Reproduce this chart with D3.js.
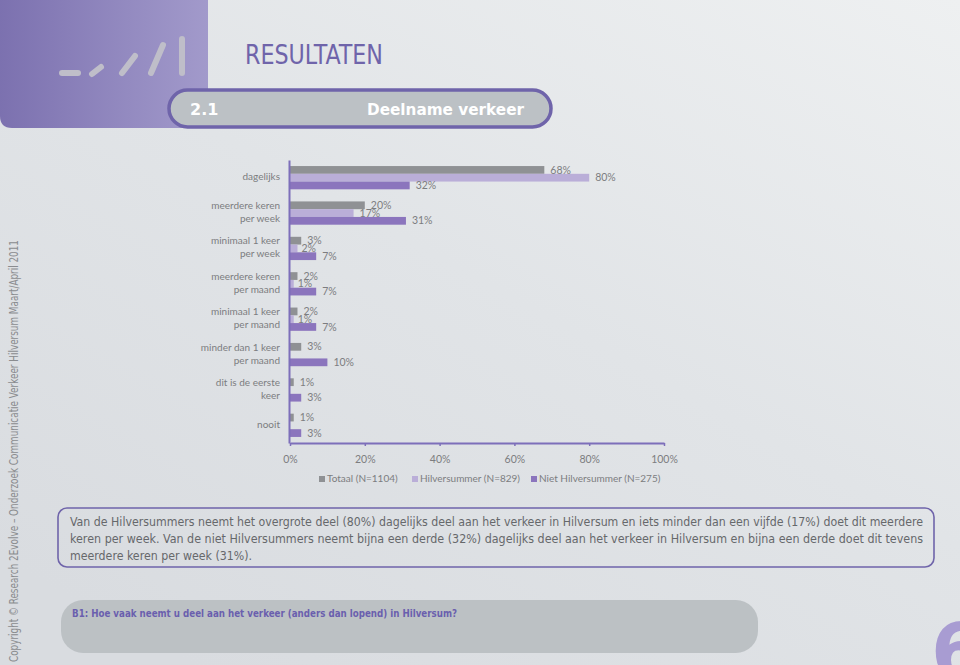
<!DOCTYPE html>
<html>
<head>
<meta charset="utf-8">
<title>Deelname verkeer</title>
<style>
  html, body { margin: 0; padding: 0; background: #e2e5e8; }
  svg { display: block; }
  .tick text { font-family: Lato, 'Open Sans', sans-serif; }
</style>
</head>
<body>
<script src="https://cdn.jsdelivr.net/npm/d3@7/dist/d3.min.js"></script>
<script>
// categories (line breaks as in the original labels)
var categories = [
  ["dagelijks"],
  ["meerdere keren", "per week"],
  ["minimaal 1 keer", "per week"],
  ["meerdere keren", "per maand"],
  ["minimaal 1 keer", "per maand"],
  ["minder dan 1 keer", "per maand"],
  ["dit is de eerste", "keer"],
  ["nooit"]
];
var seriesNames = ["Totaal (N=1104)", "Hilversummer (N=829)", "Niet Hilversummer (N=275)"];
var totaal           = [68, 20, 3, 2, 2, 3, 1, 1];
var hilversummer     = [80, 17, 2, 1, 1, 0, 0, 0];
var nietHilversummer = [32, 31, 7, 7, 7, 10, 3, 3];
var xTicks = [0, 20, 40, 60, 80, 100];

var bodyLines = [
  "Van de Hilversummers neemt het overgrote deel (80%) dagelijks deel aan het verkeer in Hilversum en iets minder dan een vijfde (17%) doet dit meerdere",
  "keren per week. Van de niet Hilversummers neemt bijna een derde (32%) dagelijks deel aan het verkeer in Hilversum en bijna een derde doet dit tevens",
  "meerdere keren per week (31%)."
];
var question = "B1: Hoe vaak neemt u deel aan het verkeer (anders dan lopend) in Hilversum?";
var copyright = "Copyright \u00a9 Research 2Evolve \u2013  Onderzoek Communicatie Verkeer Hilversum Maart/April 2011";

var colors = ["#8f9194", "#baaed8", "#8b75bd"];
var purple = "#6f64aa";
var labelFont = "Lato, 'Open Sans', sans-serif";

var W = 960, H = 665;
var svg = d3.select("body").append("svg")
    .attr("width", W)
    .attr("height", H);

// ---- background ----
var defs = svg.append("defs");
var bg = defs.append("linearGradient").attr("id", "bg")
    .attr("x1", "100%").attr("y1", "0%").attr("x2", "20%").attr("y2", "100%");
bg.append("stop").attr("offset", "0%").attr("stop-color", "#eef0f1");
bg.append("stop").attr("offset", "50%").attr("stop-color", "#e1e4e7");
bg.append("stop").attr("offset", "100%").attr("stop-color", "#d9dce0");
svg.append("rect").attr("width", W).attr("height", H).attr("fill", "url(#bg)");

var pg = defs.append("linearGradient").attr("id", "panel")
    .attr("x1", "0%").attr("y1", "0%").attr("x2", "100%").attr("y2", "0%");
pg.append("stop").attr("offset", "0%").attr("stop-color", "#7a6fae");
pg.append("stop").attr("offset", "100%").attr("stop-color", "#a29acb");

// header panel
svg.append("path")
    .attr("d", "M-10,-10 H208 V128 H12 Q0,128 0,116 V-10 Z")
    .attr("fill", "url(#panel)");

// logo strokes
var logo = svg.append("g")
    .attr("stroke", "#bfbec9")
    .attr("stroke-width", 6)
    .attr("stroke-linecap", "round")
    .attr("fill", "none");
[[62, 73, 78, 73], [92, 74, 101, 67], [122, 73, 135, 56], [151, 73, 163, 45], [182, 73, 182, 39]]
  .forEach(function(s) {
    logo.append("line").attr("x1", s[0]).attr("y1", s[1]).attr("x2", s[2]).attr("y2", s[3]);
  });

svg.append("text")
    .attr("x", 245).attr("y", 64)
    .attr("font-family", "'DejaVu Sans Condensed', 'DejaVu Sans', sans-serif")
    .attr("font-size", 27)
    .attr("textLength", 138)
    .attr("lengthAdjust", "spacingAndGlyphs")
    .attr("fill", purple)
    .text("RESULTATEN");

// section pill
svg.append("rect")
    .attr("x", 169).attr("y", 90).attr("width", 382).attr("height", 37)
    .attr("rx", 18.5)
    .attr("fill", "#bcc1c5")
    .attr("stroke", purple)
    .attr("stroke-width", 3.5);
svg.append("text")
    .attr("x", 190).attr("y", 115)
    .attr("font-family", "'DejaVu Sans', sans-serif")
    .attr("font-weight", "bold")
    .attr("font-size", 16)
    .attr("fill", "#ffffff")
    .text("2.1");
svg.append("text")
    .attr("x", 367).attr("y", 115)
    .attr("font-family", "'DejaVu Sans', sans-serif")
    .attr("font-weight", "bold")
    .attr("font-size", 16)
    .attr("textLength", 157)
    .attr("lengthAdjust", "spacingAndGlyphs")
    .attr("fill", "#ffffff")
    .text("Deelname verkeer");

// copyright vertical
svg.append("text")
    .attr("transform", "translate(18,662) rotate(-90)")
    .attr("font-family", "'DejaVu Sans Condensed', 'DejaVu Sans', sans-serif")
    .attr("font-size", 12)
    .attr("textLength", 422)
    .attr("lengthAdjust", "spacingAndGlyphs")
    .attr("fill", "#8a8c8f")
    .text(copyright);

// ---- chart ----
var x = d3.scaleLinear().domain([0, 100]).range([290, 664]);
var y = d3.scaleBand().domain(d3.range(categories.length)).range([160, 443]);
var ySub = d3.scaleBand().domain([0, 1, 2]).range([0, y.bandwidth()])
    .paddingInner(0).paddingOuter(0.78);

var series = [totaal, hilversummer, nietHilversummer];
var rows = [];
series.forEach(function(vals, s) {
  vals.forEach(function(v, i) { rows.push({ s: s, i: i, v: v }); });
});

var chart = svg.append("g");

chart.selectAll(".bar")
    .data(rows)
    .enter().append("rect")
    .attr("class", "bar")
    .attr("x", x(0))
    .attr("y", function(d) { return y(d.i) + ySub(d.s); })
    .attr("width", function(d) { return x(d.v) - x(0); })
    .attr("height", ySub.bandwidth())
    .attr("fill", function(d) { return colors[d.s]; });

chart.selectAll(".val")
    .data(rows.filter(function(d) { return d.v > 0; }))
    .enter().append("text")
    .attr("class", "val")
    .attr("x", function(d) { return x(d.v) + (d.s === 1 && d.v < 5 ? 4 : 6); })
    .attr("y", function(d) { return y(d.i) + ySub(d.s) + ySub.bandwidth() / 2 + 1; })
    .attr("dominant-baseline", "middle")
    .attr("font-family", labelFont)
    .attr("font-size", 10.5)
    .attr("fill", "#7c7d80")
    .text(function(d) { return d.v + "%"; });

// category labels
var cat = chart.selectAll(".cat")
    .data(categories)
    .enter().append("text")
    .attr("class", "cat")
    .attr("text-anchor", "end")
    .attr("font-family", labelFont)
    .attr("font-size", 10)
    .attr("fill", "#7c7d80");
cat.each(function(lines, i) {
  var c = y(i) + y.bandwidth() / 2;
  var t = d3.select(this);
  lines.forEach(function(l, k) {
    t.append("tspan")
      .attr("x", 280)
      .attr("y", c + (k - (lines.length - 1) / 2) * 13)
      .attr("dominant-baseline", "middle")
      .text(l);
  });
});

// axes
var xAxis = svg.append("g")
    .attr("transform", "translate(0,443)")
    .call(d3.axisBottom(x).tickValues(xTicks).tickSize(3).tickSizeOuter(0).tickPadding(10)
      .tickFormat(function(d) { return d + "%"; }));
xAxis.select(".domain").attr("stroke", "#7d6fba").attr("stroke-width", 2);
xAxis.selectAll(".tick line").attr("stroke", "#7d6fba").attr("stroke-width", 1.5);
xAxis.selectAll(".tick text").attr("font-size", 10.5).attr("fill", "#7c7d80");

var yAxis = svg.append("g")
    .attr("transform", "translate(289,0)")
    .call(d3.axisLeft(y).tickSize(0).tickFormat(""));
yAxis.select(".domain").attr("stroke", "#7d6fba").attr("stroke-width", 2);

// legend
var legendX = [319, 412, 531];
var legend = svg.append("g").selectAll(".lg")
    .data(seriesNames)
    .enter().append("g")
    .attr("transform", function(d, i) { return "translate(" + legendX[i] + ",479)"; });
legend.append("rect")
    .attr("x", 0).attr("y", -3).attr("width", 6).attr("height", 6)
    .attr("fill", function(d, i) { return colors[i]; });
legend.append("text")
    .attr("x", 8).attr("y", 0)
    .attr("dominant-baseline", "middle")
    .attr("font-family", labelFont)
    .attr("font-size", 10)
    .attr("fill", "#7c7d80")
    .text(function(d) { return d; });

// ---- text box ----
svg.append("rect")
    .attr("x", 58).attr("y", 508).attr("width", 876).attr("height", 59)
    .attr("rx", 9)
    .attr("fill", "none")
    .attr("stroke", purple)
    .attr("stroke-width", 1.6);
var lineWidths = [853, 853, 182];
svg.append("g").selectAll("text")
    .data(bodyLines)
    .enter().append("text")
    .attr("x", 70)
    .attr("y", function(d, i) { return 526 + i * 17; })
    .attr("font-family", "'DejaVu Sans Condensed', 'DejaVu Sans', sans-serif")
    .attr("font-size", 12.5)
    .attr("textLength", function(d, i) { return lineWidths[i]; })
    .attr("lengthAdjust", "spacingAndGlyphs")
    .attr("fill", "#66686b")
    .text(function(d) { return d; });

// question pill
svg.append("rect")
    .attr("x", 61).attr("y", 600).attr("width", 697).attr("height", 53)
    .attr("rx", 22)
    .attr("fill", "#bcc1c4");
svg.append("text")
    .attr("x", 72).attr("y", 617)
    .attr("font-family", "'DejaVu Sans Condensed', 'DejaVu Sans', sans-serif")
    .attr("font-weight", "bold")
    .attr("font-size", 10.5)
    .attr("textLength", 385)
    .attr("lengthAdjust", "spacingAndGlyphs")
    .attr("fill", "#6a5fae")
    .text(question);

// page number
svg.append("text")
    .attr("x", 931).attr("y", 678)
    .attr("font-family", "'DejaVu Sans', sans-serif")
    .attr("font-weight", "bold")
    .attr("font-size", 76)
    .attr("fill", "#a89cd2")
    .text("6");
</script>
</body>
</html>
